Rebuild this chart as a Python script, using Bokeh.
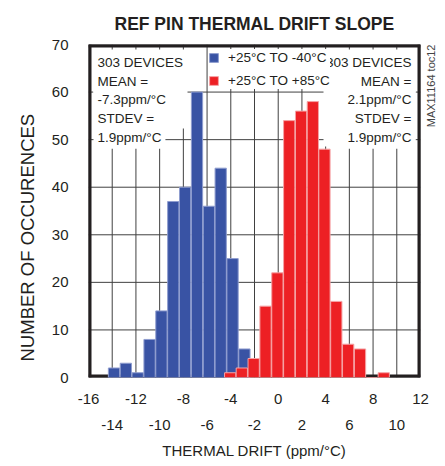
import math
from bokeh.plotting import figure
from bokeh.models import (Range1d, FixedTicker, LinearAxis, Legend, LegendItem,
                          ColumnDataSource, Label, Title, BoxAnnotation)
from bokeh.embed import file_html
from bokeh.resources import INLINE

# ---------------- data ----------------
blue_bins = [-13.85, -12.85, -11.85, -10.85, -9.85, -8.85, -7.85, -6.85, -5.85, -4.85, -3.85, -2.85]
blue_counts = [2, 3, 1, 8, 14, 37, 40, 60, 36, 44, 25, 6]
red_bins = [-4.05, -3.07, -2.07, -1.07, -0.07, 0.93, 1.93, 2.92, 3.9, 4.9, 5.9, 6.9, 7.9, 8.9]
red_counts = [1, 2, 4, 15, 22, 54, 56, 58, 48, 16, 7, 6, 0, 1]

x_ticks_upper = [-16, -12, -8, -4, 0, 4, 8, 12]
x_labels_upper = ["-16", "-12", "-8", "-4", "0", "4", "8", "12"]
x_ticks_lower = [-14, -10, -6, -2, 2, 6, 10]
x_labels_lower = ["-14", "-10", "-6", "-2", "2", "6", "10"]
y_ticks = [0, 10, 20, 30, 40, 50, 60, 70]

series_names = ["+25°C TO -40°C", "+25°C TO +85°C"]
left_notes = ["303 DEVICES", "MEAN =", "-7.3ppm/°C", "STDEV =", "1.9ppm/°C"]
right_notes = ["303 DEVICES", "MEAN =", "2.1ppm/°C", "STDEV =", "1.9ppm/°C"]
title_text = "REF PIN THERMAL DRIFT SLOPE"
x_title = "THERMAL DRIFT (ppm/°C)"
y_title = "NUMBER OF OCCURENCES"
side_note = "MAX11164 toc12"

# ---------------- style ----------------
FONT = "Liberation Sans"
TXT = "#231f20"
GRID = "#404040"
BLUE = "#3953a4"
BLUE_EDGE = "#8f9dcf"
RED = "#ed2024"
RED_EDGE = "#f5a3a5"
SIDE_NOTE_AT = 52.6   # vertical placement of the side code, in y-axis units

p = figure(frame_width=332, frame_height=333, output_backend="svg", toolbar_location=None,
           x_range=Range1d(x_ticks_upper[0], x_ticks_upper[-1]),
           y_range=Range1d(y_ticks[0], y_ticks[-1]),
           min_border_left=88, min_border_right=25, min_border_top=44, min_border_bottom=89,
           title=title_text)
p.background_fill_color = "white"
p.border_fill_color = "white"
p.outline_line_color = None
p.grid.visible = False

p.title.align = "center"
p.title.text_font = FONT
p.title.text_font_size = "17.5px"
p.title.text_font_style = "bold"
p.title.text_color = TXT
p.title.standoff = 22

# axes
ax1 = p.xaxis[0]
ax1.ticker = FixedTicker(ticks=x_ticks_upper)
ax1.major_label_overrides = {t: l for t, l in zip(x_ticks_upper, x_labels_upper)}
ax2 = LinearAxis(ticker=FixedTicker(ticks=x_ticks_lower),
                 major_label_overrides={t: l for t, l in zip(x_ticks_lower, x_labels_lower)},
                 axis_label=x_title)
ay = p.yaxis[0]
ay.ticker = FixedTicker(ticks=y_ticks)
ar = LinearAxis(ticker=FixedTicker(ticks=[SIDE_NOTE_AT]),
                major_label_overrides={SIDE_NOTE_AT: side_note},
                major_label_orientation=math.pi / 2)
for ax in (ax1, ax2, ay, ar):
    ax.axis_line_color = None
    ax.major_tick_line_color = None
    ax.minor_tick_line_color = None
    ax.major_tick_in = 0
    ax.major_tick_out = 0
    ax.minor_tick_in = 0
    ax.minor_tick_out = 0
    ax.major_label_text_font = FONT
    ax.major_label_text_color = TXT
    ax.major_label_text_font_size = "15px"
    ax.axis_label_text_font = FONT
    ax.axis_label_text_font_style = "normal"
    ax.axis_label_text_color = TXT
ax1.major_label_standoff = 16
ax2.major_label_standoff = 13
ax2.axis_label_standoff = 9
ax2.axis_label_text_font_size = "15px"
ay.major_label_standoff = 20
ar.major_label_standoff = 11
ar.major_label_text_font_size = "11px"
ar.major_label_text_color = "#444444"
p.add_layout(ax2, "below")
p.add_layout(ar, "right")

# y title, shifted toward the bottom like the original
ytitle = Title(text=y_title, align="left", offset=16, standoff=21,
               text_font=FONT, text_font_size="18.5px", text_font_style="normal",
               text_color=TXT)
p.add_layout(ytitle, "left")

# grid lines (drawn from the tick lists) and frame border, under the bars
gx = sorted(x_ticks_upper + x_ticks_lower)
xmin, xmax = x_ticks_upper[0], x_ticks_upper[-1]
ymin, ymax = y_ticks[0], y_ticks[-1]
p.segment(x0=gx, y0=[ymin] * len(gx), x1=gx, y1=[ymax] * len(gx),
          line_color=GRID, line_width=1)
p.segment(x0=[xmin] * len(y_ticks), y0=y_ticks, x1=[xmax] * len(y_ticks), y1=y_ticks,
          line_color=GRID, line_width=1)
p.segment(x0=[xmin, xmax, xmin, xmin], y0=[ymin, ymin, ymin, ymax],
          x1=[xmin, xmax, xmax, xmax], y1=[ymax, ymax, ymin, ymax],
          line_color=TXT, line_width=6)

# bars
src_b = ColumnDataSource(dict(x=blue_bins, top=blue_counts))
src_r = ColumnDataSource(dict(x=red_bins, top=red_counts))
rb = p.vbar(x="x", top="top", bottom=0, width=0.95, source=src_b,
            fill_color=BLUE, line_color=BLUE_EDGE, line_width=1)
rr = p.vbar(x="x", top="top", bottom=0, width=0.95, source=src_r,
            fill_color=RED, line_color=RED_EDGE, line_width=1)

# white panels behind the two text blocks
for l, r, b, t in ((5, 99, 249, 328), (235, 327, 231, 328)):
    p.add_layout(BoxAnnotation(left=l, right=r, bottom=b, top=t,
                               left_units="screen", right_units="screen",
                               bottom_units="screen", top_units="screen",
                               fill_color="white", fill_alpha=1.0, line_color=None))

# legend
leg = Legend(items=[LegendItem(label=series_names[0], renderers=[rb]),
                    LegendItem(label=series_names[1], renderers=[rr])],
             location=(120, 288), orientation="vertical",
             glyph_width=11, glyph_height=11, label_standoff=9, spacing=6,
             label_height=17, padding=1, margin=0,
             border_line_color=None, background_fill_color="white", background_fill_alpha=1,
             label_text_font=FONT, label_text_font_size="13.5px", label_text_color=TXT)
p.add_layout(leg, "center")

# note blocks
ys = [315.3, 296.5, 277.8, 259.0, 240.3]
for txt, yy in zip(left_notes, ys):
    p.add_layout(Label(x=5, y=yy, x_units="screen", y_units="screen", text=txt,
                       text_align="left", text_baseline="alphabetic",
                       text_font=FONT, text_font_size="13.5px", text_color=TXT,
                       background_fill_color="white", padding=4))
for txt, yy in zip(right_notes, ys):
    p.add_layout(Label(x=327, y=yy, x_units="screen", y_units="screen", text=txt,
                       text_align="right", text_baseline="alphabetic",
                       text_font=FONT, text_font_size="13.5px", text_color=TXT,
                       background_fill_color="white", padding=4))

open("out.html", "w").write(file_html(p, INLINE))
